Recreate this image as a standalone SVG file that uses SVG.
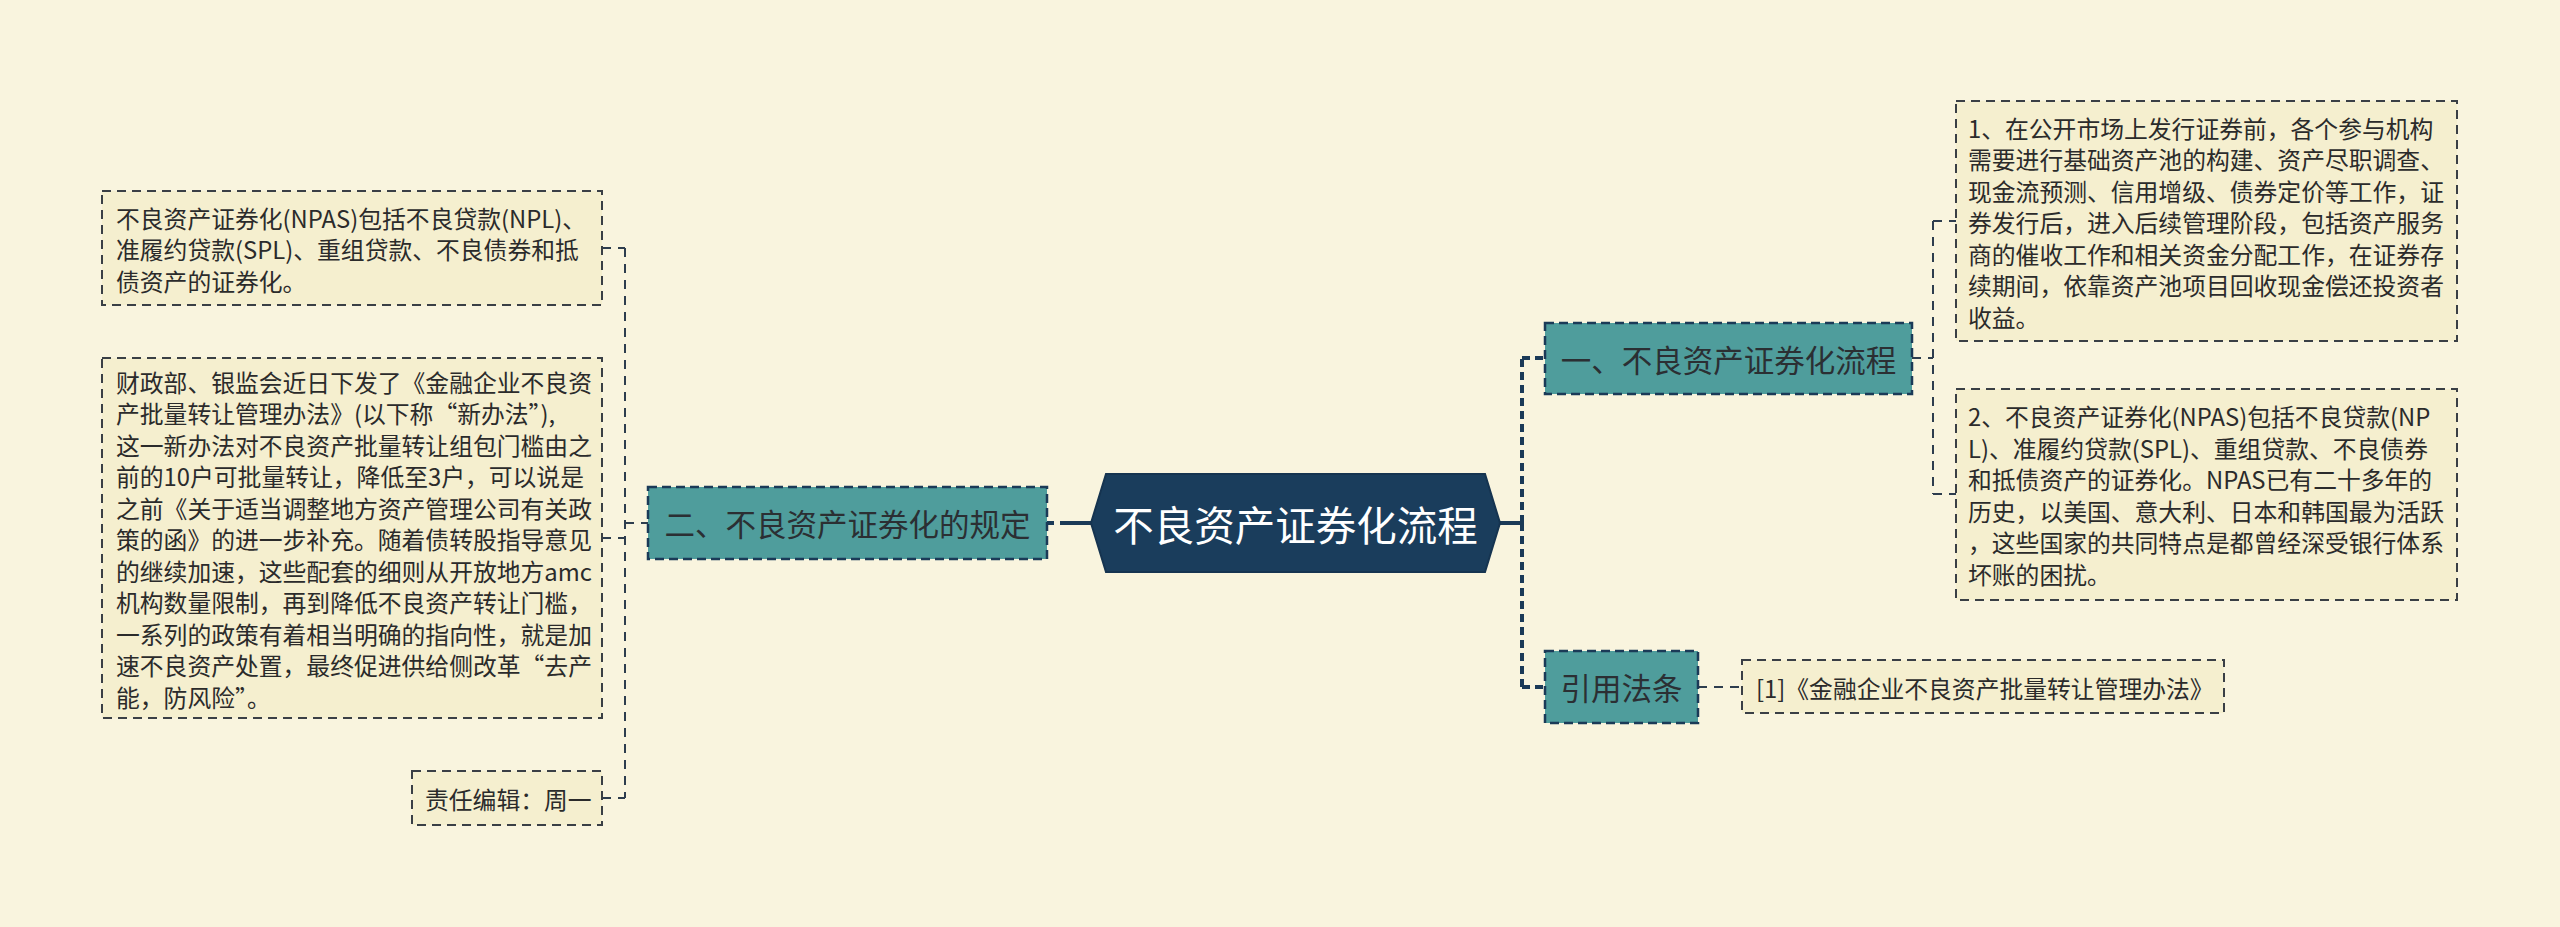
<svg xmlns="http://www.w3.org/2000/svg" width="2560" height="927" viewBox="0 0 2560 927">
<style>
  text { font-family: "Noto Sans CJK SC", "Noto Sans", sans-serif; }
  .leaf rect { fill: #f5efcf; stroke: #3a3f45; stroke-width: 2; stroke-dasharray: 9 6; }
  .leaf text { font-size: 23.8px; fill: #2b2b2b; dominant-baseline: central; }
  .branch rect { fill: #4f9d9c; stroke: #1b3a57; stroke-width: 2.5; stroke-dasharray: 9 5; }
  .branch text { font-size: 30.5px; fill: #2b2f33; dominant-baseline: central; text-anchor: middle; }
  .thin { fill: none; stroke: #2e3d4e; stroke-width: 2; stroke-dasharray: 9 7; }
  .thick { fill: none; stroke: #1b3a57; stroke-width: 4; stroke-dasharray: 8 5; }
  .solid { fill: none; stroke: #1b3a57; stroke-width: 4; }
</style>
<rect x="0" y="0" width="2560" height="927" fill="#f9f4de"/>

<g id="connectors">
  <path class="solid" d="M1060 523 H1091"/>
  <path class="solid" d="M1047 523 H1054"/>
  <path class="solid" d="M1500 523 H1522"/>
  <path class="thick" d="M1522 523 V358 M1522 523 V687"/>
  <path class="thick" d="M1522 358 H1545 M1522 687 H1545"/>
  <path class="thin" d="M625 523 H648"/>
  <path class="thin" d="M625 248 V798"/>
  <path class="thin" d="M602 248 H625 M602 538 H625 M602 798 H625"/>
  <path class="thin" d="M1912 358 H1933"/>
  <path class="thin" d="M1933 221 V494"/>
  <path class="thin" d="M1933 221 H1956 M1933 494 H1956"/>
  <path class="thin" d="M1698 687 H1742"/>
</g>

<g id="center">
  <polygon points="1091,523 1106,474 1485,474 1500,523 1485,572 1106,572" fill="#1a3d5c" stroke="#163450" stroke-width="2"/>
  <text x="1295.5" y="523" font-size="40.5" fill="#ffffff" text-anchor="middle" dominant-baseline="central">不良资产证券化流程</text>
</g>

<g id="branch-left" class="branch">
  <rect x="648" y="487" width="399" height="72"/>
  <text x="847.5" y="523">二、不良资产证券化的规定</text>
</g>

<g id="branch-r1" class="branch">
  <rect x="1545" y="323" width="367" height="71"/>
  <text x="1728.5" y="359">一、不良资产证券化流程</text>
</g>

<g id="branch-r2" class="branch">
  <rect x="1545" y="651" width="153" height="72"/>
  <text x="1621.5" y="687">引用法条</text>
</g>

<g id="leaf-a" class="leaf">
  <rect x="102" y="191" width="500" height="114"/>
  <text x="116">
    <tspan x="116" y="216.5">不良资产证券化(NPAS)包括不良贷款(NPL)、</tspan>
    <tspan x="116" y="248">准履约贷款(SPL)、重组贷款、不良债券和抵</tspan>
    <tspan x="116" y="279.5">债资产的证券化。</tspan>
  </text>
</g>

<g id="leaf-b" class="leaf">
  <rect x="102" y="358" width="500" height="360"/>
  <text x="116">
    <tspan x="116" y="380.5">财政部、银监会近日下发了《金融企业不良资</tspan>
    <tspan x="116" y="412">产批量转让管理办法》(以下称“新办法”),</tspan>
    <tspan x="116" y="443.5">这一新办法对不良资产批量转让组包门槛由之</tspan>
    <tspan x="116" y="475">前的10户可批量转让，降低至3户，可以说是</tspan>
    <tspan x="116" y="506.5">之前《关于适当调整地方资产管理公司有关政</tspan>
    <tspan x="116" y="538">策的函》的进一步补充。随着债转股指导意见</tspan>
    <tspan x="116" y="569.5">的继续加速，这些配套的细则从开放地方amc</tspan>
    <tspan x="116" y="601">机构数量限制，再到降低不良资产转让门槛，</tspan>
    <tspan x="116" y="632.5">一系列的政策有着相当明确的指向性，就是加</tspan>
    <tspan x="116" y="664">速不良资产处置，最终促进供给侧改革“去产</tspan>
    <tspan x="116" y="695.5">能，防风险”。</tspan>
  </text>
</g>

<g id="leaf-c" class="leaf">
  <rect x="412" y="771" width="190" height="54"/>
  <text x="425" y="798">责任编辑：周一</text>
</g>

<g id="leaf-r1-1" class="leaf">
  <rect x="1956" y="101" width="501" height="240"/>
  <text x="1968">
    <tspan x="1968" y="126.5">1、在公开市场上发行证券前，各个参与机构</tspan>
    <tspan x="1968" y="158">需要进行基础资产池的构建、资产尽职调查、</tspan>
    <tspan x="1968" y="189.5">现金流预测、信用增级、债券定价等工作，证</tspan>
    <tspan x="1968" y="221">券发行后，进入后续管理阶段，包括资产服务</tspan>
    <tspan x="1968" y="252.5">商的催收工作和相关资金分配工作，在证券存</tspan>
    <tspan x="1968" y="284">续期间，依靠资产池项目回收现金偿还投资者</tspan>
    <tspan x="1968" y="315.5">收益。</tspan>
  </text>
</g>

<g id="leaf-r1-2" class="leaf">
  <rect x="1956" y="389" width="501" height="211"/>
  <text x="1968">
    <tspan x="1968" y="415">2、不良资产证券化(NPAS)包括不良贷款(NP</tspan>
    <tspan x="1968" y="446.5">L)、准履约贷款(SPL)、重组贷款、不良债券</tspan>
    <tspan x="1968" y="478">和抵债资产的证券化。NPAS已有二十多年的</tspan>
    <tspan x="1968" y="509.5">历史，以美国、意大利、日本和韩国最为活跃</tspan>
    <tspan x="1968" y="541">，这些国家的共同特点是都曾经深受银行体系</tspan>
    <tspan x="1968" y="572.5">坏账的困扰。</tspan>
  </text>
</g>

<g id="leaf-r2-1" class="leaf">
  <rect x="1742" y="660" width="482" height="53"/>
  <text x="1756" y="687">[1]《金融企业不良资产批量转让管理办法》</text>
</g>
</svg>
